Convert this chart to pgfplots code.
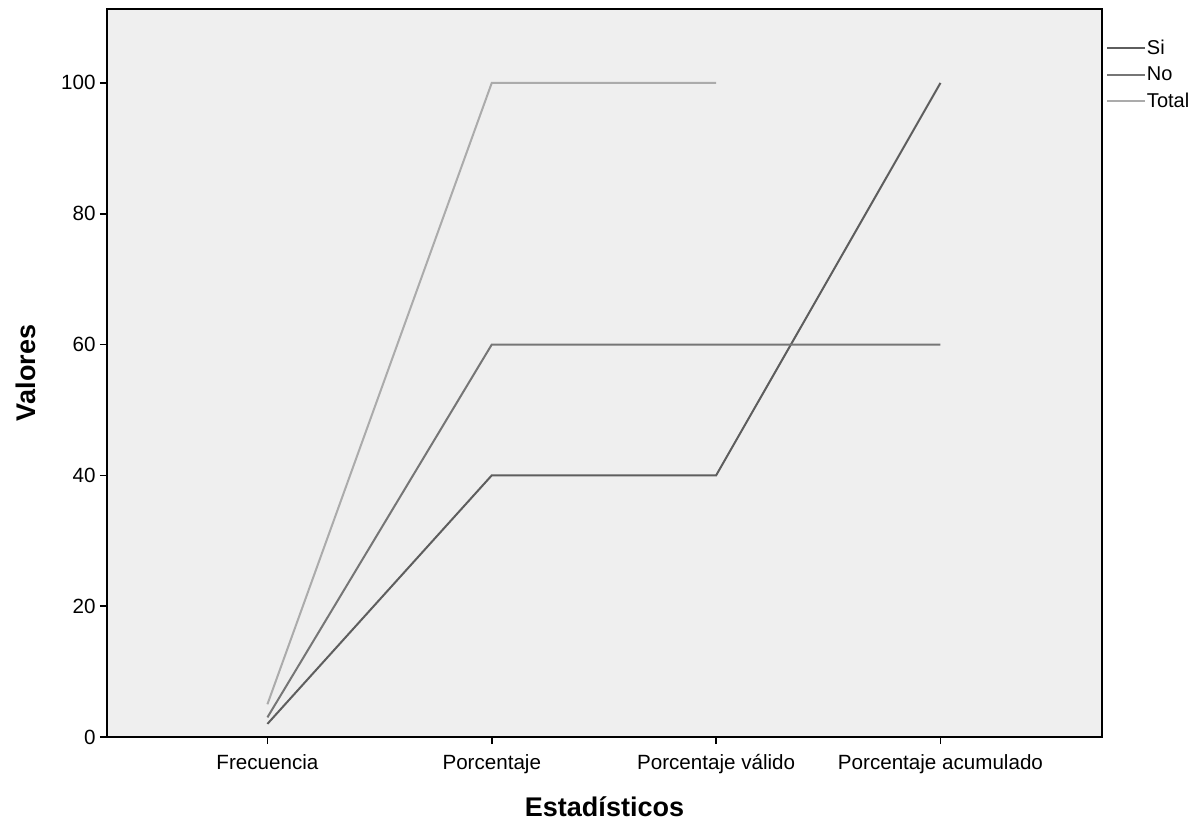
\documentclass[border=0pt]{standalone}
\usepackage{fontspec}
\setmainfont{Liberation Sans}
\usepackage{pgfplots}
\pgfplotsset{compat=1.18}
\definecolor{siC}{HTML}{5E5E5E}
\definecolor{noC}{HTML}{767676}
\definecolor{totC}{HTML}{ABABAB}
\definecolor{bgC}{HTML}{EFEFEF}
\begin{document}
\begin{tikzpicture}
\begin{axis}[
  scale only axis,
  width=995pt, height=728pt,
  at={(0,0)}, anchor=south west,
  xmin=0.285, xmax=4.72,
  ymin=0, ymax=111.3,
  xtick={1,2,3,4},
  xticklabels={Frecuencia,Porcentaje,Porcentaje válido,Porcentaje acumulado},
  ytick={0,20,40,60,80,100},
  tick align=outside,
  tick pos=left,
  major tick length=7pt,
  tick style={line width=1.6pt, black},
  axis line style={line width=1.6pt, black},
  axis background/.style={fill=bgC},
  /pgf/number format/assume math mode=true,
  tick label style={font=\fontsize{20.6}{24}\selectfont},
  xticklabel style={yshift=-7pt},
  yticklabel style={xshift=-1pt},
  xlabel={\textbf{Estadísticos}},
  ylabel={\textbf{Valores}},
  label style={font=\fontsize{27}{32}\selectfont},
  xlabel style={yshift=-16pt},
  ylabel style={yshift=18pt},
  legend cell align=left,
  legend style={draw=none, fill=none, at={(1.004,0.959)}, anchor=north west,
    font=\fontsize{20}{23}\selectfont, row sep=9pt, inner sep=0pt,
    nodes={inner sep=1pt}},
  legend image code/.code={\draw[#1, line width=1.8pt] (0pt,0pt) -- (38pt,0pt);},
]
\addplot[siC, line width=2pt] coordinates {(1,2) (2,40) (3,40) (4,100)};
\addlegendentry{Si}
\addplot[noC, line width=2pt] coordinates {(1,3) (2,60) (3,60) (4,60)};
\addlegendentry{No}
\addplot[totC, line width=2pt] coordinates {(1,5) (2,100) (3,100)};
\addlegendentry{Total}
\end{axis}
\pgfresetboundingbox
\useasboundingbox (-107pt,-85pt) rectangle (1092pt,737pt);
\end{tikzpicture}
\end{document}
